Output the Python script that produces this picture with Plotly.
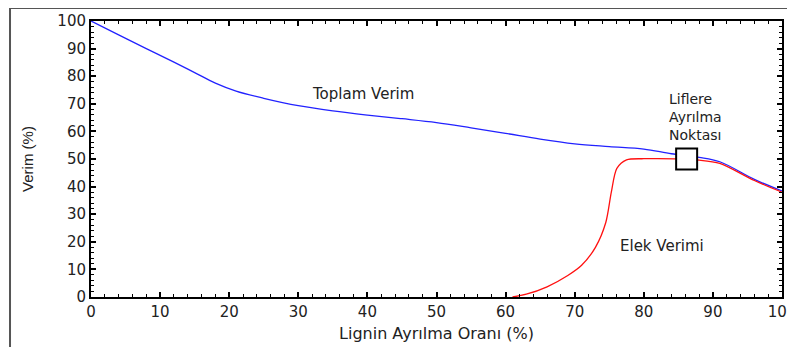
import plotly.graph_objects as go

# Toplam Verim (blue)
x_toplam = [0, 4, 8, 12, 15, 18, 21, 25, 30, 35, 40, 45, 50, 55, 60, 65, 70, 75, 80, 84, 88, 91, 96, 100]
y_toplam = [100, 95, 90, 85.1, 81.3, 77.5, 74.6, 72, 69.3, 67.4, 65.9, 64.6, 63.2, 61.3, 59.3, 57.2, 55.5, 54.5, 53.6, 51.9, 50.6, 49, 42.6, 38.4]

# Elek Verimi (red)
x_elek = [61, 63, 66, 69, 71, 73, 74.5, 75.3, 76.1, 77.5, 80, 82, 85, 88, 91, 96, 100]
y_elek = [0, 1, 3.7, 7.8, 11.5, 18, 27, 38, 46.6, 49.7, 50.1, 50.1, 50, 49.6, 48.4, 42.2, 38]

# Fibre separation point
x_point = [86.2]
y_point = [50]

x_ticks = [0, 10, 20, 30, 40, 50, 60, 70, 80, 90, 100]
y_ticks = [0, 10, 20, 30, 40, 50, 60, 70, 80, 90, 100]

FONT = "DejaVu Sans"
TXT = "#222222"

fig = go.Figure()
fig.add_trace(go.Scatter(x=x_toplam, y=y_toplam, mode="lines",
                         line=dict(color="#2222ff", width=1.3, shape="spline", smoothing=1),
                         showlegend=False, hoverinfo="skip"))
fig.add_trace(go.Scatter(x=x_elek, y=y_elek, mode="lines",
                         line=dict(color="#ff1010", width=1.3, shape="spline", smoothing=0.8),
                         showlegend=False, hoverinfo="skip"))
fig.add_trace(go.Scatter(x=x_point, y=y_point, mode="markers",
                         marker=dict(symbol="square", size=21, color="white",
                                     line=dict(color="black", width=2)),
                         showlegend=False, hoverinfo="skip"))

axis_common = dict(
    showgrid=False, zeroline=False, showline=True, linecolor="black", linewidth=2,
    mirror="ticks", ticks="inside", ticklen=5, tickwidth=1.5, tickcolor="black",
    range=[0, 100], tickfont=dict(family=FONT, size=15, color=TXT), automargin=False,
)

fig.update_xaxes(**axis_common, tickvals=x_ticks, ticktext=[str(v) for v in x_ticks],
                 minor=dict(dtick=2, ticks="inside", ticklen=3, tickwidth=1.2, tickcolor="black"),
                 title=dict(text="Lignin Ayrılma Oranı (%)", font=dict(family=FONT, size=16, color=TXT), standoff=8))
fig.update_yaxes(**axis_common, tickvals=y_ticks, ticktext=[str(v) for v in y_ticks],
                 minor=dict(dtick=2, ticks="inside", ticklen=3, tickwidth=1.2, tickcolor="black"),
                 title=dict(text="Verim (%)", font=dict(family="Liberation Sans", size=15, color=TXT), standoff=20))

annotations = [
    dict(x=31.7, y=73.5, text="Toplam Verim", font=dict(family=FONT, size=15, color=TXT)),
    dict(x=83.4, y=65.2, text="Liflere<br>Ayrılma<br>Noktası", align="left",
         font=dict(family=FONT, size=14, color=TXT)),
    dict(x=76.3, y=18.5, text="Elek Verimi", font=dict(family=FONT, size=15, color=TXT)),
]
for a in annotations:
    a.update(xref="x", yref="y", showarrow=False, xanchor="left", yanchor="middle")
fig.update_layout(annotations=annotations)

# outer frame of the picture
fig.add_shape(type="rect", xref="paper", yref="paper", x0=-0.1172, y0=-0.3, x1=1.05, y1=1.047,
              line=dict(color="#555555", width=2), layer="below")

# the page body adds an 8px offset; margins compensate so the plot area lands where the reference has it
fig.update_layout(
    width=795, height=347,
    margin=dict(l=83, r=21, t=13, b=58),
    paper_bgcolor="white", plot_bgcolor="white",
)

fig.write_html("out.html")
